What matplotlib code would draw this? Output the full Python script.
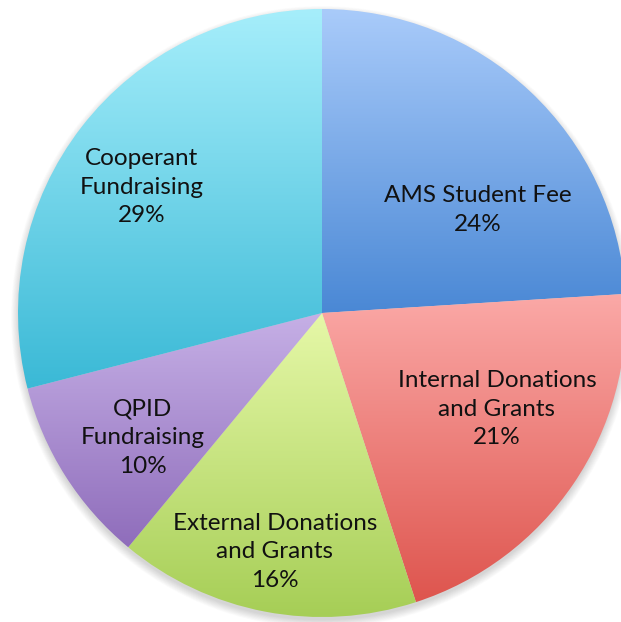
import numpy as np
import matplotlib
matplotlib.use("Agg")
import matplotlib.pyplot as plt
from matplotlib.colors import LinearSegmentedColormap

categories = ["AMS Student Fee", "Internal Donations\nand Grants",
              "External Donations\nand Grants", "QPID\nFundraising",
              "Cooperant\nFundraising"]
values = [24, 21, 16, 10, 29]
top_colors = ["#A9CBFA", "#FBA9A7", "#E6F8A8", "#C6B0E6", "#A6EEFB"]
bottom_colors = ["#4A88D5", "#DE554E", "#A6CE56", "#8F6DBB", "#3AB9D6"]
# label centres in pixel coordinates (x from left, y from top)
label_pos = [(478, 210), (497, 409), (275, 552), (143, 438), (142, 187)]

W, H = 621, 622
fig = plt.figure(figsize=(W / 100, H / 100), dpi=100)
ax = fig.add_axes([0, 0, 1, 1])
cx, cy, R = 322, H - 313, 304

# soft shadow
for k in range(14):
    ax.add_patch(plt.Circle((cx, cy - 4), R + 7 - k * 0.6, color="k",
                            alpha=0.012, lw=0, zorder=0))

wedges, _ = ax.pie(values, startangle=90, counterclock=False,
                   center=(cx, cy), radius=R, frame=True,
                   wedgeprops=dict(linewidth=0))

grad = np.linspace(0, 1, 256).reshape(-1, 1)
for w, tc, bc in zip(wedges, top_colors, bottom_colors):
    ext = w.get_path().get_extents()
    cmap = LinearSegmentedColormap.from_list("g", [tc, bc])
    w.set_facecolor("none")
    w.set_edgecolor((0.5, 0.5, 0.5, 0.0))
    im = ax.imshow(grad, cmap=cmap, origin="upper", aspect="auto",
                   interpolation="bilinear",
                   extent=(ext.x0, ext.x1, ext.y0, ext.y1), zorder=1)
    im.set_clip_path(w)

for cat, v, (px, py) in zip(categories, values, label_pos):
    ax.text(px, H - py, f"{cat}\n{v}%", ha="center", va="center",
            fontsize=17.5, family="Lato", color="#111111",
            linespacing=1.47, zorder=3)

ax.set_xlim(0, W)
ax.set_ylim(0, H)
ax.set_aspect("equal")
ax.axis("off")
fig.savefig("out.png", dpi=100, facecolor="white")
